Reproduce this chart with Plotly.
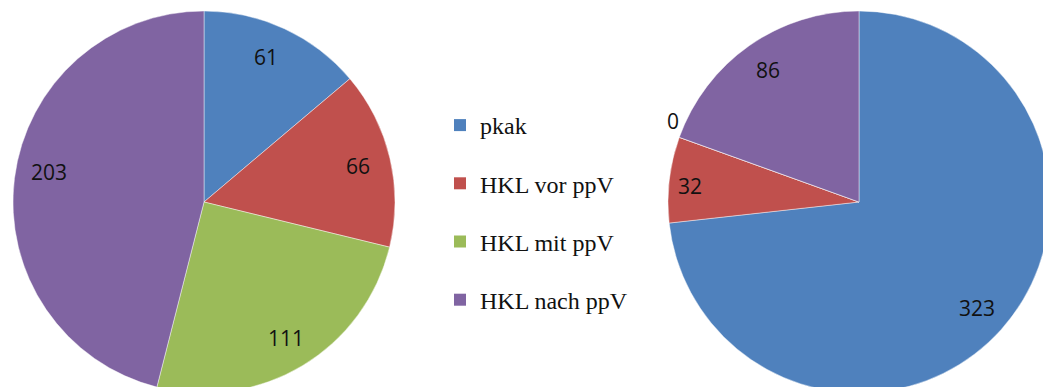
import math
import plotly.graph_objects as go

# Categories and counts for the two pies
categories = ["pkak", "HKL vor ppV", "HKL mit ppV", "HKL nach ppV"]
left_values = [61, 66, 111, 203]
right_values = [323, 32, 0, 86]
colors = ["#4F81BD", "#C0504D", "#9BBB59", "#8064A2"]

# Canvas geometry in pixels
W, H = 1050, 400
R = 191
left_center = (204, 202)
right_center = (859, 202)

# Small pixel nudges (dx, dy) for value labels that need extra room
left_nudges = [(-5, -1), (0, 0), (0, 0), (2, -10)]
right_nudges = [(0, 0), (-12, 3), (6, -12), (0, -2)]


def domain_for(center):
    cx, cy = center
    return dict(
        x=[(cx - R) / W, (cx + R) / W],
        y=[1 - (cy + R) / H, 1 - (cy - R) / H],
    )


def label_annotations(values, center, nudges):
    """Value labels placed at each slice's mid-angle."""
    total = sum(values)
    cx, cy = center
    start = 0.0
    anns = []
    for v, (dx, dy) in zip(values, nudges):
        sweep = 360.0 * v / total
        mid = math.radians(start + sweep / 2)
        rr = R * (0.83 if v > 0 else 1.07)
        px = cx + rr * math.sin(mid)
        py = cy - rr * math.cos(mid)
        anns.append(dict(
            x=px / W, y=1 - py / H, xref="paper", yref="paper",
            xanchor="center", yanchor="middle",
            xshift=dx, yshift=-dy,
            text=str(v), showarrow=False,
            font=dict(family="Open Sans, Lato, sans-serif", size=21, color="#111111"),
        ))
        start += sweep
    return anns


fig = go.Figure()

for vals, center in ((left_values, left_center), (right_values, right_center)):
    fig.add_trace(go.Pie(
        labels=categories,
        values=vals,
        sort=False,
        direction="clockwise",
        rotation=0,
        textinfo="none",
        hoverinfo="label+value",
        showlegend=False,
        marker=dict(colors=colors, line=dict(color="rgba(255,255,255,0.55)", width=0.8)),
        domain=domain_for(center),
    ))

# Legend entries, one group per category so they can be spaced apart
for name, col in zip(categories, colors):
    fig.add_trace(go.Scatter(
        x=[None], y=[None], mode="markers", name=name, legendgroup=name,
        marker=dict(symbol="square", size=12, color=col),
        hoverinfo="skip",
    ))

annotations = (label_annotations(left_values, left_center, left_nudges)
               + label_annotations(right_values, right_center, right_nudges))

fig.update_layout(
    width=W, height=H,
    margin=dict(l=0, r=0, t=0, b=0),
    paper_bgcolor="white",
    plot_bgcolor="white",
    xaxis=dict(visible=False),
    yaxis=dict(visible=False),
    annotations=annotations,
    legend=dict(
        x=440 / W, y=1 - 103 / H, xanchor="left", yanchor="top",
        traceorder="grouped",
        tracegroupgap=24,
        itemwidth=30,
        font=dict(family="Liberation Serif, Times New Roman, serif", size=24, color="#111111"),
        bgcolor="rgba(0,0,0,0)",
    ),
)

fig.write_html(
    "out.html",
    post_script="document.documentElement.style.overflow='hidden';document.body.style.overflow='hidden';",
)
